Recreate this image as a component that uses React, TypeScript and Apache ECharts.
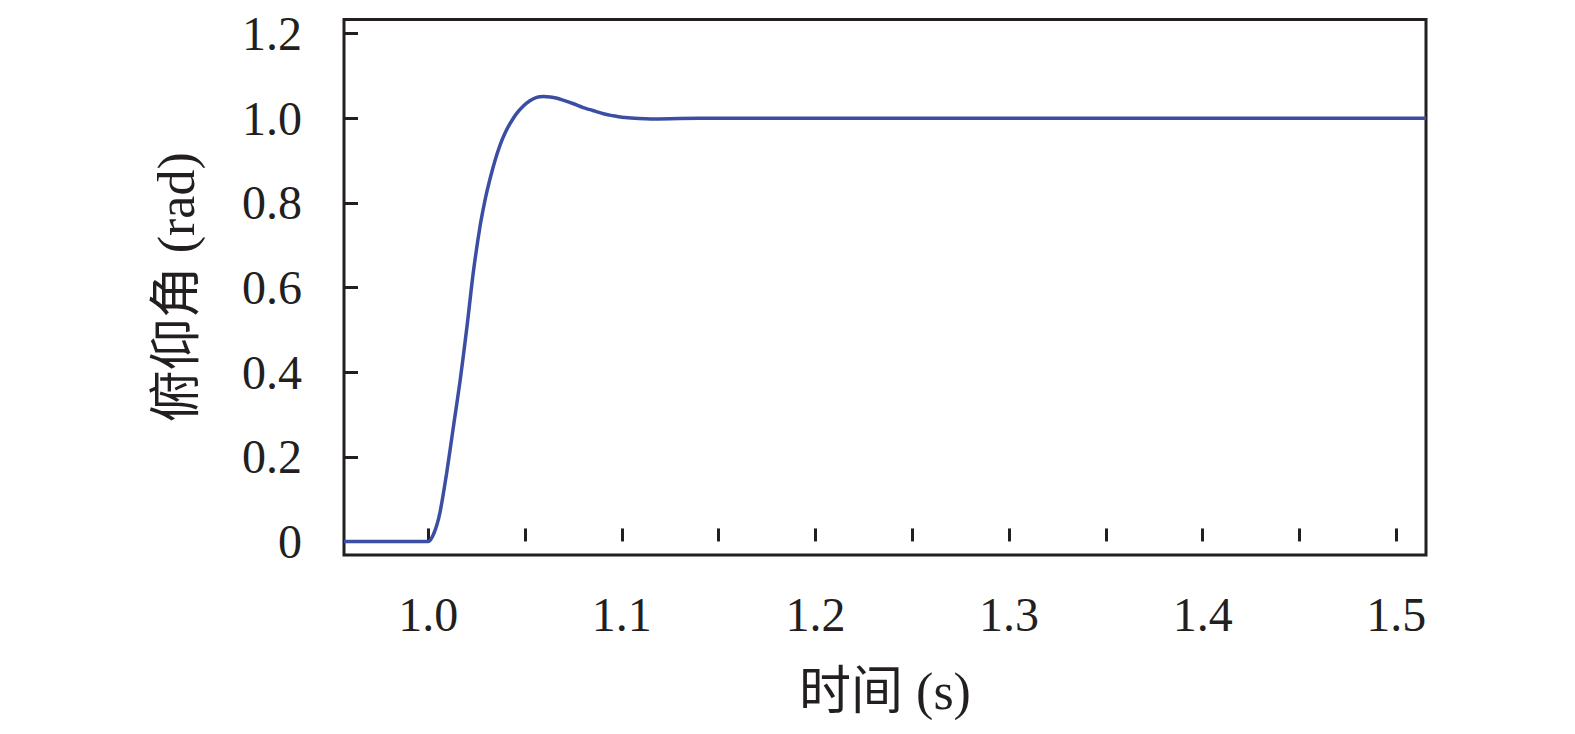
import React, { useEffect, useRef } from "react";
import * as echarts from "echarts";

const timeValues = [
  0.9565, 1.0, 1.003, 1.006, 1.0095, 1.013, 1.0165, 1.02, 1.0232, 1.0267, 1.0295, 1.032, 1.0345, 1.037,
  1.0395, 1.042, 1.0455, 1.049, 1.0525, 1.056, 1.0595, 1.063, 1.0665, 1.07, 1.075, 1.08, 1.085, 1.09,
  1.095, 1.1, 1.115, 1.13, 1.15, 1.2, 1.3, 1.4, 1.5, 1.5153,
];
const pitchValues = [
  0, 0, 0.02, 0.067, 0.161, 0.271, 0.381, 0.507, 0.633, 0.743, 0.81, 0.858, 0.9, 0.935,
  0.963, 0.985, 1.01, 1.028, 1.041, 1.049, 1.051, 1.05, 1.047, 1.042, 1.034, 1.025, 1.018, 1.011,
  1.006, 1.002, 0.998, 0.999, 1.0, 1.0, 1.0, 1.0, 1.0, 1.0,
];
const xTickValues = [1.0, 1.05, 1.1, 1.15, 1.2, 1.25, 1.3, 1.35, 1.4, 1.45, 1.5];
const xLabelValues = [1.0, 1.1, 1.2, 1.3, 1.4, 1.5];
const yTickValues = [0, 0.2, 0.4, 0.6, 0.8, 1.0, 1.2];

const FONT = "'Liberation Serif', 'Times New Roman', 'Noto Sans CJK SC', serif";
const INK = "#231f20";
const BLUE = "#3b4ea3";

export default function App() {
  const ref = useRef<HTMLDivElement>(null);
  useEffect(() => {
    if (!ref.current) return;
    const chart = echarts.init(ref.current, undefined, { renderer: "svg" });
    chart.setOption({
      animation: false,
      backgroundColor: "#ffffff",
      grid: {
        left: 344,
        right: 149,
        top: 19.5,
        bottom: 179,
        show: true,
        borderColor: INK,
        borderWidth: 3,
        backgroundColor: "transparent",
      },
      xAxis: {
        type: "value",
        min: 0.9565,
        max: 1.5153,
        axisLine: { show: false },
        axisTick: {
          show: true,
          inside: true,
          length: 13,
          customValues: xTickValues,
          lineStyle: { color: INK, width: 3 },
        },
        splitLine: { show: false },
        axisLabel: {
          customValues: xLabelValues,
          formatter: (v: number) => v.toFixed(1),
          fontFamily: FONT,
          fontSize: 48,
          color: INK,
          margin: 35,
        },
        name: "时间 (s)",
        nameLocation: "middle",
        nameGap: 110,
        nameTextStyle: { fontFamily: FONT, fontSize: 52, color: INK },
      },
      yAxis: {
        type: "value",
        min: -0.032,
        max: 1.233,
        axisLine: { show: false },
        axisTick: {
          show: true,
          inside: true,
          length: 14,
          customValues: yTickValues,
          lineStyle: { color: INK, width: 3 },
        },
        splitLine: { show: false },
        axisLabel: {
          customValues: yTickValues,
          formatter: (v: number) => (Math.abs(v) < 1e-9 ? "0" : v.toFixed(1)),
          fontFamily: FONT,
          fontSize: 48,
          color: INK,
          margin: 42,
        },
        name: "俯仰角 (rad)",
        nameLocation: "middle",
        nameGap: 142,
        nameTextStyle: { fontFamily: FONT, fontSize: 52, color: INK },
      },
      series: [
        {
          type: "line",
          data: timeValues.map((t, i) => [t, pitchValues[i]]),
          showSymbol: false,
          smooth: 0.25,
          lineStyle: { color: BLUE, width: 3.5 },
          itemStyle: { color: BLUE },
        },
      ],
    });
    return () => chart.dispose();
  }, []);
  return (
    <div
      ref={ref}
      style={{ position: "fixed", left: 0, top: 0, width: 1575, height: 734, background: "#fff" }}
    />
  );
}
